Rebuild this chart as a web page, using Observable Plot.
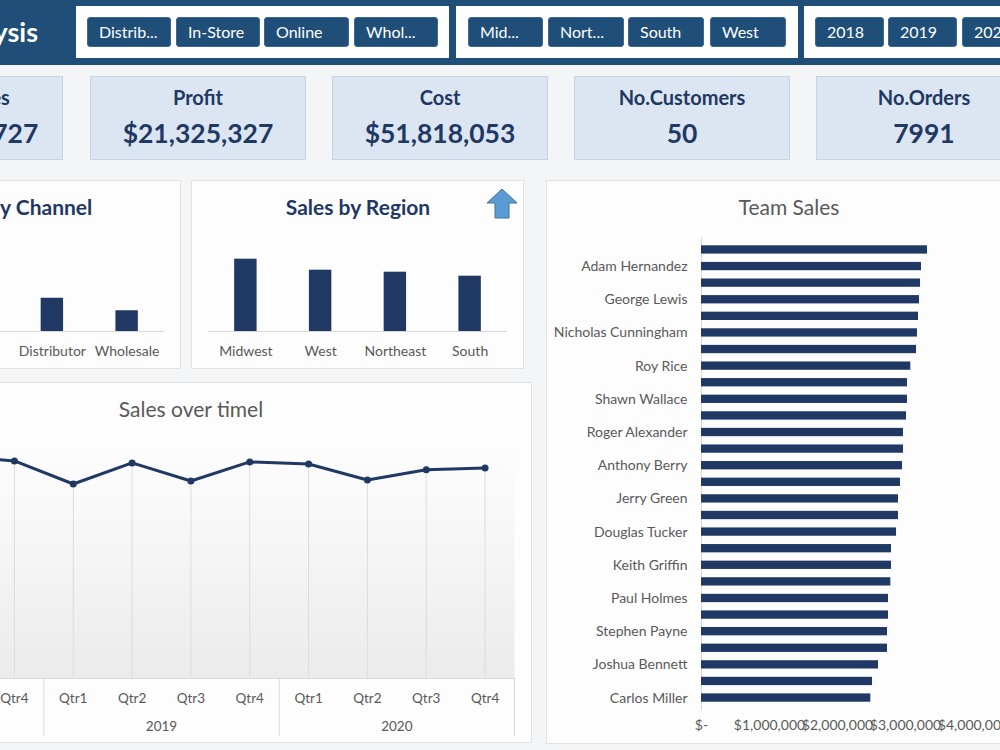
<!DOCTYPE html>
<html><head><meta charset="utf-8">
<script src="https://cdn.jsdelivr.net/npm/d3@7"></script>
<script src="https://cdn.jsdelivr.net/npm/@observablehq/plot@0.6"></script>
<style>
html,body{margin:0;padding:0;}
body{width:1000px;height:750px;overflow:hidden;position:relative;background:#f4f5f6;font-family:Lato,"Open Sans",sans-serif;}
#header{position:absolute;left:0;top:0;width:1000px;height:65px;background:#1f4e79;}
#apptitle{position:absolute;right:962px;top:14px;line-height:36px;font-size:27px;font-weight:700;color:#fff;white-space:nowrap;}
.slicer{position:absolute;top:6px;height:52px;background:#fff;}
.btn{position:absolute;top:17px;height:30px;background:#1f4e79;border:1px solid #40688f;border-radius:3px;color:#fff;font-size:16px;line-height:28px;padding-left:11px;box-sizing:border-box;white-space:nowrap;overflow:hidden;}
.card{position:absolute;top:76px;width:216px;height:84px;background:#dce6f2;border:1px solid #c6d5e5;box-sizing:border-box;color:#1f3864;text-align:center;}
.card .t{position:absolute;left:0;right:0;top:8px;line-height:24px;font-size:20px;font-weight:700;white-space:nowrap;}
.card .v{position:absolute;left:0;right:0;top:40px;line-height:32px;font-size:26.5px;font-weight:700;white-space:nowrap;}
.panel{position:absolute;background:#fdfdfd;border:1px solid #e2e2e2;box-sizing:border-box;}
.ptitle{position:absolute;white-space:nowrap;transform:translate(-50%,-50%);line-height:26px;}
.bold{font-weight:700;color:#1f3864;font-size:21px;}
.light{font-weight:400;color:#595959;font-size:21px;}
.chart{position:absolute;}
.chart svg{display:block;overflow:visible;max-width:none !important;}
</style>
</head>
<body>
<div id="header"><div id="apptitle">Sales Analysis</div></div>
<div class="slicer" style="left:76px;width:373px;"></div>
<div class="slicer" style="left:456px;width:342px;"></div>
<div class="slicer" style="left:804px;width:220px;"></div>
<div id="buttons"></div>
<div id="cards"></div>

<div class="panel" style="left:-152px;top:180px;width:333px;height:189px;"></div>
<div class="panel" style="left:191px;top:180px;width:333px;height:189px;"></div>
<div class="panel" style="left:546px;top:180px;width:470px;height:564px;"></div>
<div class="panel" style="left:-230px;top:382px;width:762px;height:361px;"></div>

<div class="ptitle bold" style="left:14px;top:207px;">Sales by Channel</div>
<div class="ptitle bold" style="left:358px;top:207px;">Sales by Region</div>
<div class="ptitle light" style="left:789px;top:207px;">Team Sales</div>
<div class="ptitle light" style="left:191px;top:409px;">Sales over timel</div>
<svg style="position:absolute;left:486px;top:188px;" width="32" height="32"><polygon points="16,1 31,15 23,15 23,30 9,30 9,15 1,15" fill="#5b9bd5" stroke="#41719c" stroke-width="1"/></svg>

<div id="channelChart" class="chart" style="left:-152px;top:180px;width:334px;"></div>
<div id="regionChart" class="chart" style="left:191px;top:180px;width:334px;"></div>
<div id="teamChart" class="chart" style="left:545px;top:180px;width:470px;"></div>
<div id="timeChart" class="chart" style="left:-192px;top:381px;width:724px;"></div>

<script>
// ---------- Slicers ----------
const slicerLabels = ["Distrib...", "In-Store", "Online", "Whol...", "Mid...", "Nort...", "South", "West", "2018", "2019", "2020"];
const slicerLefts = [87, 176, 264, 354, 468, 548, 628, 710, 815, 888, 962];
const slicerWidths = [84, 84, 85, 84, 75, 76, 76, 76, 69, 69, 69];

// ---------- KPI cards ----------
const kpiTitles = ["Total Sales", "Profit", "Cost", "No.Customers", "No.Orders"];
const kpiValues = ["$73,143,727", "$21,325,327", "$51,818,053", "50", "7991"];
const kpiLefts = [-153, 90, 332, 574, 816];

// ---------- Sales by Channel ----------
const channels = ["In-Store", "Online", "Distributor", "Wholesale"];
const channelSales = [26100000, 24300000, 13300000, 8300000];

// ---------- Sales by Region ----------
const regions = ["Midwest", "West", "Northeast", "South"];
const regionSales = [20970000, 17780000, 17200000, 16040000];

// ---------- Team Sales (top to bottom; unlabeled bars keep placeholder keys) ----------
const teamNames = ["(unlabeled 1)", "Adam Hernandez", "(unlabeled 2)", "George Lewis", "(unlabeled 3)", "Nicholas Cunningham", "(unlabeled 4)", "Roy Rice", "(unlabeled 5)", "Shawn Wallace", "(unlabeled 6)", "Roger Alexander", "(unlabeled 7)", "Anthony Berry", "(unlabeled 8)", "Jerry Green", "(unlabeled 9)", "Douglas Tucker", "(unlabeled 10)", "Keith Griffin", "(unlabeled 11)", "Paul Holmes", "(unlabeled 12)", "Stephen Payne", "(unlabeled 13)", "Joshua Bennett", "(unlabeled 14)", "Carlos Miller"];
const teamSales = [3324000, 3235000, 3221000, 3206000, 3191000, 3176000, 3162000, 3078000, 3029000, 3029000, 3015000, 2971000, 2971000, 2956000, 2926000, 2897000, 2897000, 2868000, 2794000, 2794000, 2784000, 2750000, 2750000, 2735000, 2735000, 2603000, 2515000, 2490000];
const teamTicks = [0, 1000000, 2000000, 3000000, 4000000];
const teamTickLabels = ["$-", "$1,000,000", "$2,000,000", "$3,000,000", "$4,000,000"];

// ---------- Sales over time ----------
const timeYears = [2018, 2018, 2018, 2018, 2019, 2019, 2019, 2019, 2020, 2020, 2020, 2020];
const timeQuarters = ["Qtr1", "Qtr2", "Qtr3", "Qtr4", "Qtr1", "Qtr2", "Qtr3", "Qtr4", "Qtr1", "Qtr2", "Qtr3", "Qtr4"];
const timeSales = [5700000, 5790000, 6530000, 6400000, 5720000, 6340000, 5810000, 6370000, 6310000, 5840000, 6140000, 6190000];

// ---------- build HTML pieces ----------
const btnHost = document.getElementById("buttons");
slicerLabels.forEach((t, i) => {
  const b = document.createElement("div");
  b.className = "btn";
  b.style.left = slicerLefts[i] + "px";
  b.style.width = slicerWidths[i] + "px";
  b.textContent = t;
  btnHost.appendChild(b);
});
const cardHost = document.getElementById("cards");
kpiTitles.forEach((t, i) => {
  const c = document.createElement("div");
  c.className = "card";
  c.style.left = kpiLefts[i] + "px";
  const pad = i === 0 ? "16px" : "0px";
  c.innerHTML = `<div class="t" style="padding-left:${pad}">${t}</div><div class="v" style="padding-left:${pad}">${kpiValues[i]}</div>`;
  cardHost.appendChild(c);
});

const baseStyle = {background: "transparent", fontFamily: "Lato, 'Open Sans', sans-serif", fontSize: "14px", color: "#595959", overflow: "visible", maxWidth: "none"};
const navy = "#1f3864";

// Sales by Channel
const channelTable = channels.map((c, i) => ({channel: c, sales: channelSales[i]}));
document.getElementById("channelChart").appendChild(Plot.plot({
  width: 334, height: 190, marginLeft: 17, marginRight: 18, marginTop: 51, marginBottom: 39,
  style: baseStyle,
  x: {domain: channels, paddingInner: 0.7, paddingOuter: 0.35, round: false, label: null},
  y: {domain: [0, 40000000], axis: null, label: null},
  marks: [
    Plot.ruleY([0], {stroke: "#d9d9d9"}),
    Plot.barY(channelTable, {x: "channel", y: "sales", fill: navy}),
    Plot.axisX({tickSize: 0, tickPadding: 15, label: null, fontSize: 14})
  ]
}));

// Sales by Region
const regionTable = regions.map((r, i) => ({region: r, sales: regionSales[i]}));
document.getElementById("regionChart").appendChild(Plot.plot({
  width: 334, height: 190, marginLeft: 17, marginRight: 18, marginTop: 51, marginBottom: 39,
  style: baseStyle,
  x: {domain: regions, paddingInner: 0.7, paddingOuter: 0.35, round: false, label: null},
  y: {domain: [0, 29000000], axis: null, label: null},
  marks: [
    Plot.ruleY([0], {stroke: "#d9d9d9"}),
    Plot.barY(regionTable, {x: "region", y: "sales", fill: navy}),
    Plot.axisX({tickSize: 0, tickPadding: 15, label: null, fontSize: 14})
  ]
}));

// Team Sales
const teamTable = teamNames.map((n, i) => ({name: n, sales: teamSales[i]}));
const teamLabeled = teamNames.filter(n => !n.startsWith("("));
document.getElementById("teamChart").appendChild(Plot.plot({
  width: 470, height: 565, marginLeft: 156, marginRight: 42, marginTop: 57, marginBottom: 35,
  style: baseStyle,
  x: {domain: [0, 4000000], label: null},
  y: {domain: teamNames, padding: 0.5, round: false, label: null},
  marks: [
    Plot.ruleX([0], {stroke: "#d9d9d9"}),
    Plot.barX(teamTable, {y: "name", x: "sales", fill: navy}),
    Plot.axisY({ticks: teamLabeled, tickSize: 0, tickPadding: 14, label: null, fontSize: 14}),
    Plot.axisX({ticks: teamTicks, tickSize: 0, tickPadding: 10, label: null, fontSize: 14,
      tickFormat: d => teamTickLabels[teamTicks.indexOf(d)]})
  ]
}));

// Sales over time
const timeTable = timeSales.map((s, i) => ({xi: i + 0.5, year: timeYears[i], quarter: timeQuarters[i], sales: s}));
const yearList = [...new Set(timeYears)];
const yearStarts = [0];
yearList.forEach(y => yearStarts.push(yearStarts[yearStarts.length - 1] + timeYears.filter(v => v === y).length));
const yearCenters = yearList.map((y, k) => (yearStarts[k] + yearStarts[k + 1]) / 2);
const timeSvg = Plot.plot({
  width: 724, height: 362, marginLeft: 0, marginRight: 18, marginTop: 59, marginBottom: 65,
  style: baseStyle,
  x: {domain: [0, timeSales.length], label: null},
  y: {domain: [0, 7000000], axis: null, label: null},
  marks: [
    Plot.frame({fill: "url(#timeGrad)", stroke: null}),
    Plot.ruleX(timeTable, {x: "xi", y1: 0, y2: "sales", stroke: "#dcdcdc"}),
    Plot.ruleY([0], {stroke: "#d9d9d9"}),
    Plot.axisX({ticks: yearStarts, tickSize: 58, tickFormat: () => "", stroke: "#d9d9d9", label: null}),
    Plot.axisX({ticks: timeTable.map(d => d.xi), tickSize: 0, tickPadding: 15, label: null, fontSize: 13.5,
      tickFormat: x => timeQuarters[Math.floor(x)]}),
    Plot.axisX({ticks: yearCenters, tickSize: 0, tickPadding: 43, label: null, fontSize: 13.5,
      tickFormat: x => String(yearList[yearCenters.indexOf(x)])}),
    Plot.line(timeTable, {x: "xi", y: "sales", stroke: navy, strokeWidth: 3}),
    Plot.dot(timeTable, {x: "xi", y: "sales", r: 3.5, fill: navy, stroke: null})
  ]
});
const defs = d3.select(timeSvg).insert("defs", ":first-child");
const grad = defs.append("linearGradient").attr("id", "timeGrad").attr("x1", 0).attr("y1", 0).attr("x2", 0).attr("y2", 1);
grad.append("stop").attr("offset", "0").attr("stop-color", "#fdfdfd");
grad.append("stop").attr("offset", "0.15").attr("stop-color", "#fbfbfb");
grad.append("stop").attr("offset", "1").attr("stop-color", "#ebebeb");
document.getElementById("timeChart").appendChild(timeSvg);
</script>
</body></html>
